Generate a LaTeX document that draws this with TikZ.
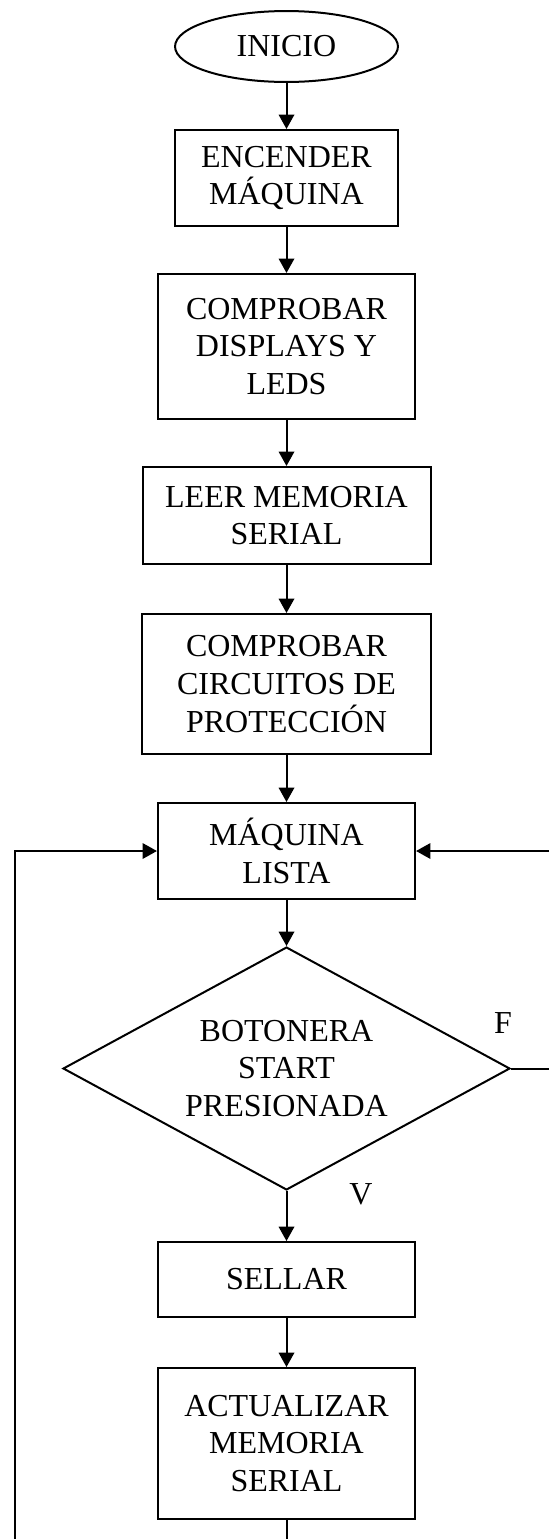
\documentclass[tikz,border=0pt]{standalone}
\usepackage{fontspec}
\setmainfont{Liberation Serif}
\usetikzlibrary{shapes,arrows.meta}

\tikzset{
  caja/.style={draw, line width=0.75pt, rectangle, align=center, inner sep=0pt, font=\fontsize{12}{14.2}\selectfont},
  terminal/.style={draw, line width=0.75pt, ellipse, inner sep=0pt, font=\fontsize{12}{14.2}\selectfont},
  decision/.style={draw, line width=0.75pt, diamond, aspect=1.84, align=center, inner sep=0pt, font=\fontsize{12}{14.2}\selectfont},
  flecha/.style={line width=0.75pt, -{Triangle[length=5.4pt,width=5.8pt]}},
  linea/.style={line width=0.75pt}
}

\begin{document}
\begin{tikzpicture}[x=0.375pt, y=-0.375pt]
\def \colx {286.5}
\def \leftx {14.5}
\def \rightx {549}
\def \bottomy {1539}
\useasboundingbox (0,0) rectangle (549,1539);

%Inicio
\node[terminal, minimum width=83.6pt, minimum height=26.6pt] (inicio) at (\colx,46.5) {INICIO};

%Pasos iniciales
\node[caja, minimum width=83.6pt, minimum height=36pt] (encender) at (\colx,178) {ENCENDER\\M\'AQUINA};
\node[caja, minimum width=96.4pt, minimum height=54.4pt] (displays) at (\colx,346.5) {COMPROBAR\\DISPLAYS Y\\LEDS};
\node[caja, minimum width=108pt, minimum height=36.4pt] (leer) at (\colx,515.5) {LEER MEMORIA\\SERIAL};
\node[caja, minimum width=108.4pt, minimum height=52.5pt] (circuitos) at (\colx,684) {COMPROBAR\\CIRCUITOS DE\\PROTECCI\'ON};

%Lazo principal
\node[caja, minimum width=96.4pt, minimum height=36pt] (lista) at (\colx,851) {M\'AQUINA\\LISTA};
\node[decision, minimum width=167.6pt, minimum height=91.1pt] (boton) at (\colx,1068.5) {BOTONERA\\START\\PRESIONADA};
\node[caja, minimum width=96.2pt, minimum height=28.1pt] (sellar) at (\colx,1279.5) {SELLAR};
\node[caja, minimum width=96.2pt, minimum height=56.6pt] (actualizar) at (\colx,1443.5) {ACTUALIZAR\\MEMORIA\\SERIAL};

%Etiquetas
\node[font=\fontsize{12}{14.2}\selectfont] (falso) at (503,1023) {F};
\node[font=\fontsize{12}{14.2}\selectfont] (verdad) at (361,1194) {V};

%Puntos de retorno
\coordinate (finabajo) at (\colx,\bottomy);
\coordinate (izqabajo) at (\leftx,\bottomy);
\coordinate (izqarriba) at (\leftx,851);
\coordinate (derfalso) at (\rightx,1068.5);
\coordinate (derarriba) at (\rightx,851);

%Flechas
\draw[flecha] (inicio) -- (encender);
\draw[flecha] (encender) -- (displays);
\draw[flecha] (displays) -- (leer);
\draw[flecha] (leer) -- (circuitos);
\draw[flecha] (circuitos) -- (lista);
\draw[flecha] (lista) -- (boton.north);
\draw[flecha] (boton.south) -- (sellar);
\draw[flecha] (sellar) -- (actualizar);
\draw[linea] (actualizar) -- (finabajo);

%Retornos
\draw[flecha] (izqabajo) -- (izqarriba) -- (lista.west);
\draw[linea] (boton.east) -- (derfalso);
\draw[flecha] (derarriba) -- (lista.east);

\end{tikzpicture}
\end{document}
